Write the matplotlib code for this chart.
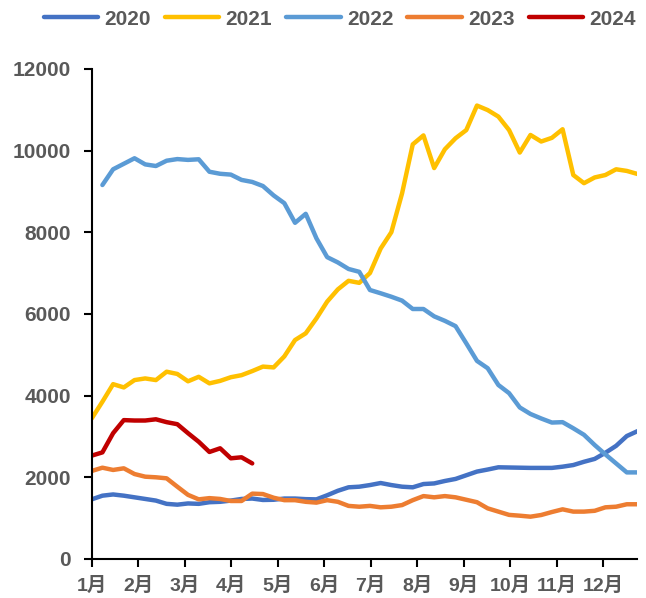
import matplotlib
matplotlib.use("Agg")
import matplotlib.pyplot as plt
import numpy as np

plt.rcParams['font.family'] = ['Liberation Sans', 'Noto Sans CJK SC', 'DejaVu Sans']
plt.rcParams['font.weight'] = 'bold'

# Weekly values, week index starting at the first week of January
y2020 = [1460, 1550, 1580, 1550, 1510, 1470, 1430, 1350, 1330, 1360,
         1350, 1390, 1400, 1430, 1470, 1480, 1445, 1450, 1480, 1480,
         1465, 1460, 1560, 1670, 1755, 1770, 1810, 1860, 1810, 1770,
         1755, 1835, 1850, 1910, 1960, 2050, 2140, 2190, 2245, 2240,
         2235, 2230, 2230, 2230, 2260, 2300, 2380, 2450, 2600, 2770,
         3010, 3130]
y2021 = [3440, 3850, 4280, 4200, 4380, 4420, 4380, 4585, 4530, 4350,
         4460, 4300, 4360, 4450, 4500, 4600, 4710, 4690, 4960, 5360,
         5525, 5890, 6300, 6600, 6810, 6760, 7000, 7600, 8000, 8950,
         10150, 10370, 9570, 10030, 10300, 10500, 11100, 10990, 10830, 10500,
         9950, 10380, 10220, 10310, 10520, 9400, 9200, 9340, 9400, 9540,
         9500, 9425]
y2022 = [None, 9155, 9540, 9675, 9810, 9660, 9620, 9750, 9790, 9770,
         9785, 9480, 9430, 9410, 9280, 9230, 9130, 8900, 8710, 8230,
         8450, 7850, 7390, 7260, 7100, 7030, 6585, 6505, 6420, 6325,
         6120, 6120, 5940, 5830, 5700, 5280, 4850, 4670, 4260, 4060,
         3710, 3550, 3440, 3340, 3350, 3200, 3040, 2790, 2560, 2340,
         2120, 2120]
y2023 = [2155, 2235, 2180, 2220, 2080, 2015, 2000, 1975, 1770, 1570,
         1460, 1490, 1470, 1420, 1420, 1600, 1590, 1500, 1440, 1440,
         1400, 1380, 1440, 1400, 1300, 1280, 1300, 1265, 1280, 1320,
         1440, 1540, 1510, 1540, 1510, 1450, 1390, 1240, 1160, 1080,
         1060, 1036, 1077, 1150, 1216, 1160, 1160, 1180, 1265, 1280,
         1340, 1340]
y2024 = [2530, 2610, 3080, 3400, 3390, 3390, 3420, 3350, 3300, 3080,
         2870, 2620, 2710, 2465, 2490, 2340]

months = ['1月', '2月', '3月', '4月', '5月', '6月',
          '7月', '8月', '9月', '10月', '11月', '12月']

series = [
    ('2020', y2020, '#4472C4'),
    ('2021', y2021, '#FFC000'),
    ('2022', y2022, '#5B9BD5'),
    ('2023', y2023, '#ED7D31'),
    ('2024', y2024, '#C00000'),
]

fig = plt.figure(figsize=(6.46, 5.98), dpi=100)
ax = fig.add_axes([91.7 / 646, 1 - 559 / 598, (637.5 - 91.7) / 646, (559 - 68.8) / 598])

for name, vals, color in series:
    v = np.array([np.nan if x is None else x for x in vals], dtype=float)
    ax.plot(np.arange(len(v)), v, color=color, lw=3.2, label=name,
            solid_capstyle='round', solid_joinstyle='round')

ax.set_xlim(0, 51)
ax.set_ylim(0, 12000)
ax.set_yticks(np.arange(0, 12001, 2000))
week_per_month = 52.14 / 12
ax.set_xticks([k * week_per_month for k in range(12)])
ax.set_xticklabels(months)

for s in ['top', 'right']:
    ax.spines[s].set_visible(False)
for s in ['left', 'bottom']:
    ax.spines[s].set_linewidth(1.5)
    ax.spines[s].set_color('black')

ax.tick_params(axis='both', direction='out', length=6, width=1.5, color='black',
               labelcolor='#595959')
ax.tick_params(axis='y', pad=9, labelsize=15)
ax.tick_params(axis='x', pad=7, labelsize=14)
for lab in ax.get_xticklabels() + ax.get_yticklabels():
    lab.set_fontweight('bold')

fig.legend(loc='center', bbox_to_anchor=(0.526, 0.968), ncol=5, frameon=False,
           handlelength=2.6, handletextpad=0.3, columnspacing=0.68,
           borderaxespad=0, borderpad=0,
           prop={'size': 15, 'weight': 'bold'}, labelcolor='#595959')

fig.savefig('out.png', dpi=100)
